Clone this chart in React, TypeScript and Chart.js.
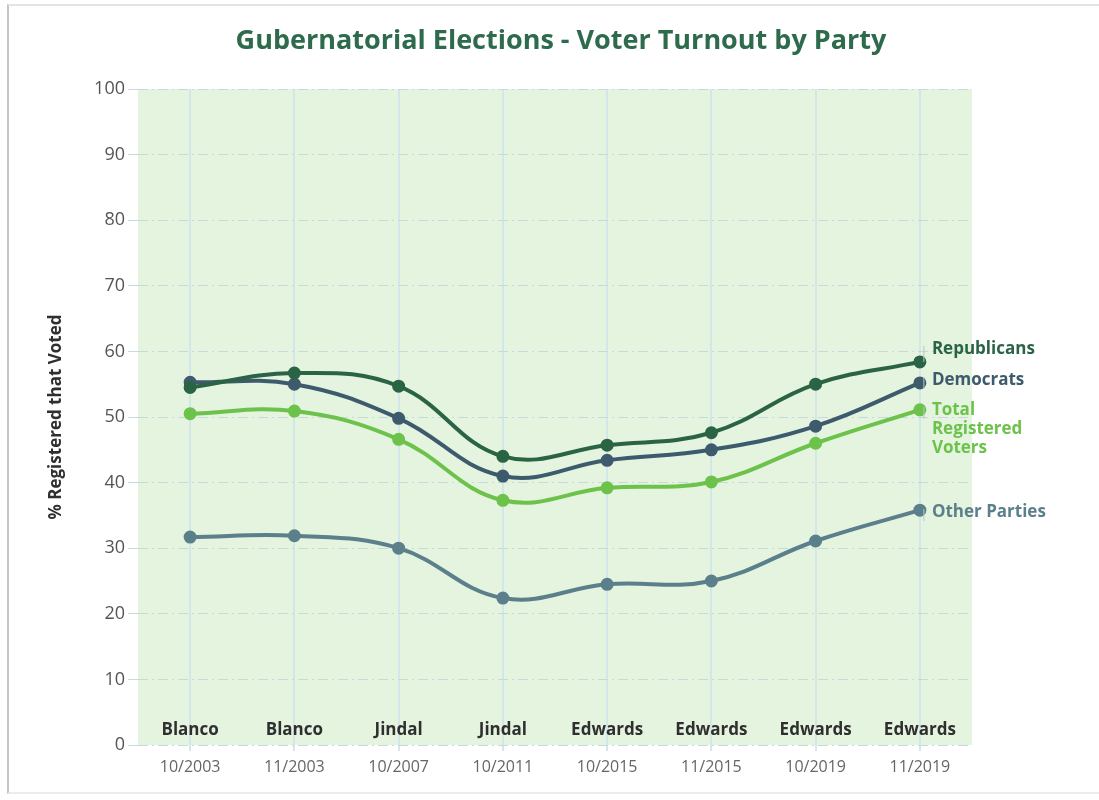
import React, { useEffect, useRef } from "react";
import { Chart, registerables } from "chart.js";

Chart.register(...registerables);

const categories = ["10/2003", "11/2003", "10/2007", "10/2011", "10/2015", "11/2015", "10/2019", "11/2019"];
const candidates = ["Blanco", "Blanco", "Jindal", "Jindal", "Edwards", "Edwards", "Edwards", "Edwards"];
const republicans = [54.5, 56.7, 54.7, 44.0, 45.7, 47.6, 55.0, 58.4];
const democrats = [55.3, 55.0, 49.8, 41.0, 43.4, 45.0, 48.6, 55.2];
const totalRegistered = [50.5, 50.9, 46.6, 37.3, 39.2, 40.1, 46.0, 51.1];
const otherParties = [31.7, 31.9, 30.0, 22.4, 24.5, 25.0, 31.1, 35.8];
const seriesNames = ["Republicans", "Democrats", "Total Registered Voters", "Other Parties"];
const endLabels = [["Republicans"], ["Democrats"], ["Total", "Registered", "Voters"], ["Other Parties"]];
const titleText = "Gubernatorial Elections - Voter Turnout by Party";
const yAxisTitle = "% Registered that Voted";

const COLORS = ["#2b6445", "#3d5b6c", "#6cc24a", "#5b7f8b"];
const FONT = "'Open Sans', Lato, sans-serif";

export default function App() {
  const canvasRef = useRef<HTMLCanvasElement | null>(null);

  useEffect(() => {
    if (!canvasRef.current) return;
    const labelOffsets = [-13, -3, 0, 2];

    const decorPlugin = {
      id: "decor",
      beforeDraw(chart: any) {
        const { ctx, chartArea } = chart;
        ctx.save();
        ctx.fillStyle = "#e4f4df";
        ctx.fillRect(chartArea.left, chartArea.top, chartArea.right - chartArea.left, chartArea.bottom - chartArea.top);
        ctx.restore();
      },
      afterDraw(chart: any) {
        const { ctx, chartArea } = chart;
        const xScale = chart.scales.x;
        ctx.save();
        // title
        ctx.font = `bold 27px ${FONT}`;
        ctx.fillStyle = "#2e6b4c";
        ctx.textAlign = "center";
        ctx.textBaseline = "middle";
        ctx.fillText(titleText, 561, 41);
        // candidate names
        ctx.font = `bold 17px ${FONT}`;
        ctx.fillStyle = "#2f2f2f";
        candidates.forEach((c, i) => {
          ctx.fillText(c, xScale.getPixelForValue(i), chartArea.bottom - 15);
        });
        // end labels
        ctx.textAlign = "left";
        chart.data.datasets.forEach((ds: any, di: number) => {
          const meta = chart.getDatasetMeta(di);
          const last = meta.data[meta.data.length - 1];
          const lines = endLabels[di];
          const y0 = last.y + labelOffsets[di];
          ctx.strokeStyle = "#b8c4c8";
          ctx.lineWidth = 1;
          ctx.beginPath();
          ctx.moveTo(last.x + 4, Math.min(y0 - 3, last.y));
          ctx.lineTo(last.x + 4, Math.max(y0 + 9, last.y));
          ctx.stroke();
          ctx.font = `bold 17px ${FONT}`;
          ctx.fillStyle = COLORS[di];
          lines.forEach((ln, li) => {
            ctx.fillText(ln, last.x + 12, y0 + li * 19);
          });
        });
        ctx.restore();
      },
    };

    const dataArrays = [republicans, democrats, totalRegistered, otherParties];
    const chart = new Chart(canvasRef.current, {
      type: "line",
      data: {
        labels: categories,
        datasets: dataArrays.map((d, i) => ({
          label: seriesNames[i],
          data: d,
          borderColor: COLORS[i],
          backgroundColor: COLORS[i],
          pointBackgroundColor: COLORS[i],
          pointBorderColor: COLORS[i],
          borderWidth: 4,
          pointRadius: 4.5,
          tension: 0.4,
          fill: false,
        })),
      },
      options: {
        animation: false,
        responsive: false,
        layout: { padding: { left: 0, right: 127, top: 89, bottom: 0 } },
        plugins: {
          legend: { display: false },
          title: { display: false },
          tooltip: { enabled: false },
        },
        scales: {
          x: {
            offset: true,
            afterFit(scale: any) {
              scale.height = 55;
            },
            grid: {
              offset: false,
              color: "#d3e7ea",
              lineWidth: 2,
              tickLength: 6,
              drawTicks: true,
            },
            border: { display: false },
            ticks: {
              color: "#666666",
              font: { family: FONT, size: 16 },
              padding: 7,
              maxRotation: 0,
            },
          },
          y: {
            min: 0,
            max: 100,
            afterFit(scale: any) {
              scale.width = 138;
            },
            grid: {
              color: "#c6dadd",
              lineWidth: 1,
              tickLength: 10,
              tickColor: "#c6dadd",
            },
            border: { display: false, dash: [10, 4, 2, 4] },
            ticks: {
              stepSize: 10,
              color: "#555555",
              font: { family: FONT, size: 18 },
              padding: 3,
            },
            title: {
              display: true,
              text: yAxisTitle,
              color: "#2f2f2f",
              font: { family: FONT, size: 17, weight: "bold" },
              padding: { top: 46, bottom: 0 },
            },
          },
        },
      },
      plugins: [decorPlugin],
    } as any);

    return () => chart.destroy();
  }, []);

  return (
    <div style={{ position: "absolute", left: 0, top: 0, width: 1099, height: 800, background: "#ffffff", overflow: "hidden" }}>
      <div
        style={{
          position: "absolute",
          left: 7,
          top: 4,
          width: 1100,
          height: 790,
          borderLeft: "2px solid #c4c4c4",
          borderTop: "2px solid #e4e4e4",
          borderBottom: "2px solid #ececec",
          boxSizing: "border-box",
        }}
      />
      <canvas ref={canvasRef} width={1099} height={800} style={{ position: "absolute", left: 0, top: 0, width: 1099, height: 800 }} />
    </div>
  );
}
